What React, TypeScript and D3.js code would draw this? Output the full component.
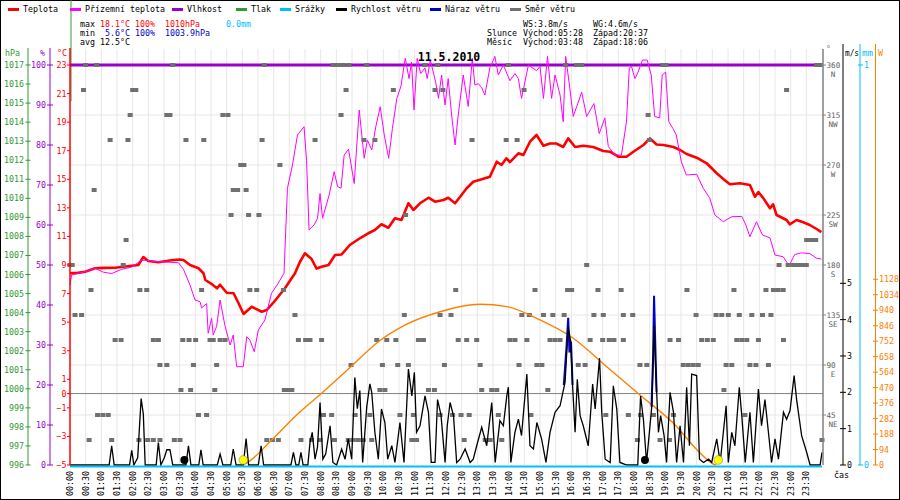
import React from "react";
import * as d3 from "d3";

type Pt = [number, number];

// hour of day, °C
const temperature: Pt[] = [
  [0, 8.42], [0.25, 8.45], [0.48, 8.53], [0.8, 8.77], [1.1, 8.8], [1.44, 8.81], [1.97, 8.95], [2.18, 9.0],
  [2.34, 9.56], [2.5, 9.28], [2.82, 9.19], [3.24, 9.33], [3.5, 9.38], [3.62, 9.35], [3.83, 9.0], [4.1, 8.77],
  [4.26, 8.42], [4.32, 7.95], [4.5, 7.7], [4.69, 7.37], [4.79, 7.62], [5.0, 7.06], [5.22, 7.02], [5.38, 6.32],
  [5.54, 5.57], [5.8, 6.08], [6.12, 5.73], [6.28, 5.85], [6.49, 6.36], [6.86, 7.37], [7.18, 8.42], [7.34, 9.23],
  [7.5, 9.82], [7.71, 9.42], [7.87, 8.75], [8.03, 8.88], [8.25, 9.0], [8.46, 9.7], [8.67, 9.74], [8.93, 10.4],
  [9.25, 10.87], [9.52, 11.22], [9.73, 11.45], [9.94, 11.85], [10.16, 11.61], [10.37, 12.27], [10.58, 12.15],
  [10.8, 13.32], [10.96, 12.85], [11.17, 13.32], [11.44, 13.71], [11.65, 13.43], [11.92, 13.55], [12.07, 13.71],
  [12.29, 13.32], [12.66, 14.37], [12.87, 14.83], [13.14, 15.0], [13.4, 15.18], [13.62, 16.23], [13.77, 16.0],
  [13.93, 16.47], [14.04, 16.2], [14.31, 16.82], [14.47, 16.7], [14.68, 17.63], [14.89, 18.1], [15.11, 17.35],
  [15.32, 17.5], [15.53, 17.5], [15.74, 17.26], [15.9, 17.86], [16.12, 17.26], [16.38, 17.35], [16.7, 17.26],
  [17.02, 16.98], [17.23, 16.93], [17.5, 16.58], [17.76, 16.58], [17.98, 16.93], [18.3, 17.4], [18.51, 17.86],
  [18.72, 17.44], [18.94, 17.4], [19.26, 17.26], [19.47, 17.05], [19.68, 16.77], [20.0, 16.51], [20.32, 16.12],
  [20.64, 15.42], [20.85, 15.02], [21.06, 14.65], [21.38, 14.72], [21.7, 14.6], [21.86, 13.78], [21.97, 14.1],
  [22.12, 13.7], [22.34, 12.97], [22.44, 13.25], [22.55, 12.5], [22.87, 12.15], [22.97, 11.85], [23.19, 12.15],
  [23.4, 11.99], [23.61, 11.8], [23.83, 11.52], [23.98, 11.3],
];

// hour of day, °C (ground)
const groundTemperature: Pt[] = [
  [0, 7.6], [0.05, 8.3], [0.48, 8.53], [0.8, 8.77], [1.06, 8.5], [1.33, 8.4], [1.65, 8.7], [1.97, 8.86],
  [2.29, 9.35], [2.82, 9.23], [3.46, 9.16], [3.62, 8.7], [3.83, 7.6], [3.99, 6.55], [4.15, 6.43], [4.2, 6.0],
  [4.36, 6.3], [4.41, 4.22], [4.52, 5.27], [4.57, 4.1], [4.68, 4.7], [4.79, 6.55], [4.95, 4.7], [5.11, 3.4],
  [5.21, 4.1], [5.32, 1.88], [5.53, 1.88], [5.64, 3.98], [5.74, 3.75], [5.88, 2.93], [6.01, 4.45], [6.22, 5.15],
  [6.43, 7.02], [6.64, 7.7], [6.83, 8.42], [6.94, 14.37], [7.1, 16.0], [7.26, 18.1], [7.47, 18.68], [7.55, 16.3],
  [7.63, 11.45], [7.79, 11.8], [7.9, 12.27], [7.98, 14.0], [8.06, 12.27], [8.27, 13.9], [8.43, 15.53],
  [8.54, 14.5], [8.65, 14.37], [8.75, 16.7], [8.89, 17.1], [9.07, 14.7], [9.23, 19.85], [9.39, 16.47],
  [9.49, 17.75], [9.63, 17.05], [9.76, 18.68], [9.9, 20.08], [10.03, 18.1], [10.17, 16.47], [10.29, 18.56],
  [10.43, 20.66], [10.56, 21.5], [10.7, 23.47], [10.82, 22.05], [10.9, 23.2], [10.98, 19.85], [11.08, 23.47],
  [11.19, 22.4], [11.33, 22.8], [11.4, 22.05], [11.5, 23.35], [11.67, 21.8], [11.76, 20.66], [11.86, 22.3],
  [11.97, 20.2], [12.07, 22.05], [12.18, 19.5], [12.29, 17.4], [12.39, 19.5], [12.55, 22.3], [12.71, 20.1],
  [12.84, 23.47], [12.92, 21.6], [13.03, 21.7], [13.14, 21.4], [13.24, 20.9], [13.4, 22.8], [13.56, 23.6],
  [13.67, 22.3], [13.83, 23.0], [14.04, 21.9], [14.2, 22.4], [14.31, 22.05], [14.41, 20.66], [14.63, 23.0],
  [14.89, 22.6], [15.0, 22.9], [15.11, 20.66], [15.24, 23.6], [15.37, 20.66], [15.48, 22.3], [15.64, 20.9],
  [15.74, 19.03], [15.82, 23.6], [15.95, 21.4], [16.06, 19.4], [16.19, 20.2], [16.33, 21.1], [16.49, 19.4],
  [16.72, 20.3], [16.89, 18.2], [17.07, 19.3], [17.18, 17.3], [17.39, 16.7], [17.6, 16.7], [17.76, 19.03],
  [17.85, 22.8], [17.92, 22.9], [18.03, 22.05], [18.13, 22.5], [18.27, 23.35], [18.42, 23.35], [18.55, 22.3],
  [18.66, 19.4], [18.82, 19.3], [18.9, 22.3], [19.01, 22.5], [19.11, 19.03], [19.24, 18.56], [19.35, 18.1],
  [19.51, 16.23], [19.67, 15.3], [20.0, 15.35], [20.21, 14.37], [20.42, 13.67], [20.58, 12.5], [20.85, 12.03],
  [21.12, 12.38], [21.44, 12.4], [21.57, 11.8], [21.7, 10.98], [21.91, 12.03], [22.1, 11.1], [22.34, 10.9],
  [22.5, 9.7], [22.76, 9.58], [22.95, 8.95], [23.13, 9.74], [23.35, 9.85], [23.61, 9.8], [23.83, 9.47],
  [23.98, 9.42],
];

// hour of day, m/s
const windSpeed: Pt[] = [
  [0, 0], [1.25, 0], [1.33, 0.53], [1.41, 0], [1.9, 0], [1.97, 0.4], [2.04, 0], [2.16, 0.2], [2.27, 1.83],
  [2.34, 1.4], [2.4, 0], [2.75, 0], [2.82, 0.62], [2.9, 0], [3.01, 0.2], [3.09, 0.42], [3.19, 0.42], [3.28, 0],
  [3.7, 0], [3.78, 0.53], [3.86, 0], [4.11, 0], [4.18, 0.42], [4.25, 0], [4.7, 0], [4.79, 0.3], [4.88, 0],
  [5.13, 0], [5.21, 0.44], [5.3, 0], [5.53, 0], [5.62, 0.73], [5.7, 0], [6.01, 0], [6.1, 0.53], [6.18, 0],
  [7.05, 0], [7.13, 0.35], [7.21, 0], [7.3, 0], [7.37, 0.35], [7.44, 0], [7.59, 0], [7.66, 0.62], [7.73, 0.9],
  [7.82, 0.16], [7.9, 0.5], [7.98, 1.72], [8.07, 0.16], [8.16, 0.3], [8.3, 1.08], [8.39, 0.07], [8.51, 0],
  [8.67, 0.44], [8.78, 0.16], [8.88, 0.72], [8.99, 0.16], [9.09, 2.41], [9.17, 1.55], [9.25, 2.05], [9.34, 0.07],
  [9.47, 1.6], [9.57, 2.23], [9.63, 2.0], [9.73, 0.9], [9.84, 0.16], [9.94, 1.54], [10.05, 1.17], [10.14, 0.16],
  [10.27, 0.53], [10.37, 0.07], [10.53, 1.17], [10.66, 0.07], [10.8, 2.64], [10.91, 1.9], [10.99, 2.55],
  [11.06, 0.9], [11.17, 1.08], [11.33, 1.9], [11.44, 1.45], [11.53, 0.07], [11.65, 0.07], [11.73, 1.8],
  [11.84, 1.38], [11.97, 0.07], [12.04, 1.08], [12.13, 1.72], [12.24, 1.35], [12.34, 0.07], [12.45, 0.16],
  [12.61, 0.44], [12.77, 0.07], [12.87, 0.16], [12.98, 0.53], [13.14, 1.04], [13.3, 0.53], [13.46, 1.72],
  [13.57, 0.07], [13.72, 1.22], [13.83, 1.08], [13.94, 1.9], [13.99, 2.14], [14.07, 0.07], [14.2, 0.9],
  [14.31, 1.26], [14.41, 0.81], [14.58, 2.5], [14.68, 0.53], [14.79, 0.44], [14.9, 1.17], [15.05, 0.72],
  [15.19, 0.07], [15.32, 0.9], [15.48, 1.45], [15.64, 1.63], [15.8, 2.28], [15.9, 3.8], [15.98, 3.39],
  [16.04, 2.18], [16.12, 0.9], [16.19, 2.36], [16.28, 1.36], [16.38, 1.08], [16.54, 0.53], [16.68, 2.23],
  [16.76, 1.54], [16.9, 2.94], [16.97, 1.45], [17.08, 0.16], [17.24, 0.07], [17.34, 2.18], [17.45, 1.54],
  [17.55, 0.07], [17.77, 0], [18.12, 0], [18.21, 1.9], [18.3, 1.26], [18.4, 0.07], [18.57, 1.63], [18.64, 3.84],
  [18.7, 2.46], [18.78, 0.9], [18.85, 1.36], [18.96, 0.81], [19.04, 0.07], [19.15, 2.0], [19.26, 1.45],
  [19.36, 0.07], [19.47, 1.08], [19.58, 0.07], [19.68, 2.14], [19.77, 0.53], [19.84, 2.5], [20.0, 2.46],
  [20.09, 0.16], [20.22, 0.07], [20.38, 0.16], [20.48, 0.07], [20.64, 0.72], [20.75, 0.07], [20.94, 1.63],
  [21.01, 0.07], [21.12, 0.9], [21.22, 0.53], [21.36, 2.14], [21.44, 1.36], [21.55, 0.07], [21.7, 1.45],
  [21.81, 0.07], [21.97, 2.09], [22.07, 1.08], [22.18, 1.8], [22.29, 0.9], [22.39, 0.07], [22.5, 0.72],
  [22.61, 0.16], [22.77, 1.45], [22.87, 1.26], [22.98, 1.5], [23.11, 2.46], [23.19, 1.8], [23.35, 0.81],
  [23.51, 0.35], [23.62, 0], [23.94, 0], [24, 0.35],
];

// gust peaks that stick out above the wind speed line
const windGustPeaks: Pt[][] = [
  [[15.76, 2.2], [15.85, 3.3], [15.9, 4.05], [15.94, 3.1], [15.99, 3.4], [16.04, 2.2]],
  [[18.56, 1.6], [18.61, 3.0], [18.64, 4.66], [18.68, 3.3], [18.72, 2.0]],
];

// hour of day, W/m2
const solarRadiation: Pt[] = [
  [5.5, 0], [5.62, 10], [6.44, 152], [7.29, 314], [8.03, 436], [8.99, 601], [9.84, 749], [10.69, 850],
  [11.81, 931], [13.09, 976], [13.94, 962], [15.0, 881], [16.06, 770], [17.13, 597], [18.19, 425],
  [19.26, 253], [20.11, 73], [20.53, 6], [20.62, 0],
];

const humidity: Pt[] = [[0, 100], [24, 100]];
const rain: Pt[] = [[0, 0], [24, 0]];
const pressure: Pt[] = [[0, 1015.1], [0, 1045]];

// wind direction samples: level (deg) and hours at which a mark sits on it
const dirLevels = [360, 337.5, 315, 292.5, 270, 247.5, 225, 202.5, 180, 157.5, 135, 112.5, 90, 67.5, 45, 22.5];
const dirHours: number[][] = [
  [0.5, 0.85, 3.28, 6.2, 8.4, 8.56, 8.72, 8.9, 9.47, 11.33, 11.74, 13.99, 15.82, 16.17, 16.33, 18.92, 19.02, 23.83, 23.94],
  [0.43, 2.0, 2.1, 8.81, 10.32, 11.65, 11.9, 14.49, 22.87],
  [1.92, 3.09, 3.19, 4.88, 5.04, 8.65, 18.45],
  [1.28, 1.85, 3.7, 4.27, 6.13, 7.82, 9.38, 9.73, 12.83, 13.92, 14.27, 18.49],
  [5.45, 5.55, 6.7],
  [0.77, 5.21, 5.35, 5.62],
  [5.14, 5.7, 6.03, 10.71],
  [1.79, 23.51, 23.66, 23.8],
  [0.0, 0.07, 1.7, 16.49, 22.63, 22.92, 23.07, 23.22, 23.36, 23.5],
  [0.67, 2.23, 2.45, 4.2, 5.74, 5.96, 6.81, 12.31, 14.84, 15.88, 16.01, 16.85, 17.59, 19.69, 21.19, 22.21, 22.45, 22.6, 22.76],
  [0.16, 0.37, 7.18, 10.67, 11.81, 12.16, 14.42, 14.66, 15.11, 15.41, 15.77, 16.72, 17.02, 17.66, 17.96, 19.98, 20.62, 20.8, 21.01, 21.36, 21.76, 22.1, 22.37],
  [1.44, 1.63, 2.66, 2.82, 3.6, 3.8, 4.01, 4.47, 4.57, 4.79, 4.95, 7.29, 7.52, 7.66, 8.03, 9.79, 10.11, 10.4, 11.12, 11.28, 12.39, 12.66, 12.98, 14.04, 14.2, 14.58, 15.32, 15.48, 15.64, 16.6, 17.0, 17.21, 17.36, 17.66, 19.15, 19.42, 20.16, 20.34, 20.53, 21.28, 21.44, 21.6, 21.97, 22.77],
  [2.87, 3.09, 3.94, 4.68, 8.97, 9.97, 10.46, 10.8, 11.95, 13.09, 14.33, 14.9, 15.06, 16.22, 16.44, 18.19, 18.41, 19.57, 19.73, 19.89, 20.05, 20.94, 21.12, 21.7, 21.89, 22.29],
  [3.54, 3.85, 4.62, 6.84, 6.95, 7.08, 9.89, 10.05, 11.44, 11.63, 13.14, 13.46, 13.62, 15.25, 20.87],
  [0.88, 1.05, 1.22, 4.1, 4.36, 8.09, 8.35, 9.1, 9.57, 10.53, 10.96, 11.81, 12.21, 12.48, 12.74, 13.67, 14.71, 17.1, 17.82, 18.21, 18.62, 19.26, 21.54],
  [0.61, 1.33, 2.2, 2.48, 2.66, 2.87, 3.33, 3.51, 6.28, 6.46, 6.65, 7.37, 7.71, 7.98, 8.44, 8.88, 9.04, 9.2, 9.36, 9.63, 10.91, 11.06, 12.58, 13.25, 13.41, 13.78, 18.11, 18.83, 19.13, 24.0],
];

const sunMarks = [5.53, 20.69];
const moonMarks = [3.65, 18.35];

const tempTicks = [23, 21, 19, 17, 15, 13, 11, 9, 7, 5, 3, 1, 0, -1, -3, -5];
const humTicks = d3.range(0, 101, 10);
const presTicks = d3.range(996, 1018);
const dirTicks: [number, string][] = [[360, "N"], [315, "NW"], [270, "W"], [225, "SW"], [180, "S"], [135, "SE"], [90, "E"], [45, "NE"]];
const windTicks = [0, 1, 2, 3, 4, 5];
const rainTicks = [0, 1];
const radTicks = d3.range(0, 1129, 94);
const timeTicks = d3.range(0, 48);

const legend = [
  { label: "Teplota", color: "#ff0000" },
  { label: "Přízemní teplota", color: "#ff00ff" },
  { label: "Vlhkost", color: "#9900cc" },
  { label: "Tlak", color: "#339933" },
  { label: "Srážky", color: "#00bfff" },
  { label: "Rychlost větru", color: "#000000" },
  { label: "Náraz větru", color: "#0000cc" },
  { label: "Směr větru", color: "#707070" },
];
const legendX = [8, 70, 172, 236, 280, 336, 430, 510];

const FONT = "'DejaVu Sans Mono', monospace";
const X0 = 70;
const X1 = 822;
const YTOP = 65;
const YBOT = 465;

const C = {
  temp: "#ff0000",
  ground: "#ff00ff",
  hum: "#9900cc",
  pres: "#339933",
  rain: "#00bfff",
  wind: "#000000",
  gust: "#0000cc",
  dir: "#707070",
  sun: "#ff8000",
  grid: "#e6e6e6",
};

const hhmm = (i: number) => `${String(Math.floor(i / 2)).padStart(2, "0")}:${i % 2 ? "30" : "00"}`;

export default function App() {
  const x = d3.scaleLinear().domain([0, 24]).range([X0, X1]);
  const yT = d3.scaleLinear().domain([-5, 23]).range([YBOT, YTOP]);
  const yH = d3.scaleLinear().domain([0, 100]).range([YBOT, YTOP]);
  const yP = d3.scaleLinear().domain([996, 1017]).range([YBOT, YTOP]);
  const yD = d3.scaleLinear().domain([0, 360]).range([YBOT, YTOP]);
  const yV = d3.scaleLinear().domain([0, 5]).range([YBOT, 283.3]);
  const yR = d3.scaleLinear().domain([0, 1]).range([YBOT, YTOP]);
  const yW = d3.scaleLinear().domain([0, 1128]).range([YBOT, 279.3]);

  const line = (ys: d3.ScaleLinear<number, number>, curve: d3.CurveFactory = d3.curveLinear) =>
    d3.line<Pt>().x((d) => x(d[0])).y((d) => ys(d[1])).curve(curve);

  const axisL = 28, axisH = 50, axisT = 70;
  const axisD = 823, axisV = 843, axisR = 860, axisW = 875.5;

  return (
    <svg
      width={900}
      height={500}
      style={{ position: "absolute", left: 0, top: 0, background: "#fff" }}
      fontFamily={FONT}
      fontSize={8.3}
    >
      <rect x={0.5} y={0.5} width={899} height={499} fill="#fff" stroke="#000" />

      {/* grid */}
      {timeTicks.slice(1).map((i) => (
        <line key={"gv" + i} x1={x(i / 2)} x2={x(i / 2)} y1={49} y2={YBOT} stroke={C.grid} />
      ))}
      {dirTicks.map(([d]) => (
        <line key={"gh" + d} x1={X0} x2={axisD} y1={yD(d)} y2={yD(d)} stroke={C.grid} />
      ))}
      <line x1={X0} x2={axisD} y1={yT(0)} y2={yT(0)} stroke="#808080" />

      {/* pressure */}
      <path d={line(yP)(pressure) ?? ""} transform="translate(1,0)" fill="none" stroke={C.pres} strokeWidth={1} />

      {/* humidity */}
      <path d={line(yH)(humidity) ?? ""} fill="none" stroke={C.hum} strokeWidth={3} />

      {/* temperatures */}
      <path d={line(yT)(temperature) ?? ""} fill="none" stroke={C.temp} strokeWidth={2.6} strokeLinejoin="round" />
      <path d={line(yT)(groundTemperature) ?? ""} fill="none" stroke={C.ground} strokeWidth={1} />

      {/* wind direction */}
      {dirLevels.map((lvl, li) =>
        dirHours[li].map((h, k) => (
          <rect key={`d${li}-${k}`} x={x(h) - 2.5} y={yD(lvl) - 2} width={5} height={4} fill={C.dir} />
        ))
      )}

      {/* solar radiation */}
      <path d={line(yW, d3.curveMonotoneX)(solarRadiation) ?? ""} fill="none" stroke={C.sun} strokeWidth={1.4} />

      {/* wind */}
      {windGustPeaks.map((seg, i) => (
        <path key={"g" + i} d={line(yV)(seg) ?? ""} fill="none" stroke={C.gust} strokeWidth={2} />
      ))}
      <path d={line(yV)(windSpeed) ?? ""} fill="none" stroke={C.wind} strokeWidth={1.3} />

      {/* rain */}
      <path d={line(yR)(rain) ?? ""} transform="translate(0,1.5)" fill="none" stroke={C.rain} strokeWidth={2} />

      {/* sun & moon */}
      {moonMarks.map((h) => (
        <circle key={"m" + h} cx={x(h)} cy={YBOT - 5} r={4} fill="#000" />
      ))}
      {sunMarks.map((h) => (
        <circle key={"s" + h} cx={x(h)} cy={YBOT - 5} r={4.3} fill="#ffff00" stroke="#8a8a30" strokeWidth={0.6} />
      ))}

      {/* left axes */}
      <line x1={axisL} x2={axisL} y1={48} y2={YBOT} stroke={C.pres} />
      <line x1={axisH} x2={axisH} y1={48} y2={YBOT} stroke={C.hum} />
      <line x1={axisT} x2={axisT} y1={48} y2={YBOT} stroke={C.temp} strokeWidth={1.5} />
      <text x={5} y={56} fill={C.pres}>hPa</text>
      <text x={40} y={56} fill={C.hum}>%</text>
      <text x={57} y={56} fill={C.temp}>°C</text>
      {presTicks.map((p) => (
        <g key={"p" + p}>
          <line x1={axisL - 2.5} x2={axisL + 2.5} y1={yP(p)} y2={yP(p)} stroke={C.pres} />
          <text x={axisL - 4} y={yP(p) + 3} textAnchor="end" fill={C.pres}>{p}</text>
        </g>
      ))}
      {humTicks.map((v) => (
        <g key={"h" + v}>
          <line x1={axisH - 3} x2={axisH + 3} y1={yH(v)} y2={yH(v)} stroke={C.hum} />
          <text x={axisH - 4} y={yH(v) + 3} textAnchor="end" fill={C.hum}>{v}</text>
        </g>
      ))}
      {tempTicks.map((t) => (
        <g key={"t" + t}>
          <line x1={axisT - 3} x2={axisT} y1={yT(t)} y2={yT(t)} stroke={C.temp} />
          <text x={axisT - 3.5} y={yT(t) + 3} textAnchor="end" fill={C.temp}>{t === 0 ? "0" : t < 0 ? `\u2212${-t}` : t}</text>
        </g>
      ))}

      {/* right axes */}
      <line x1={axisD} x2={axisD} y1={49} y2={YBOT} stroke="#808080" strokeWidth={1.5} />
      <line x1={axisV} x2={axisV} y1={44} y2={YBOT} stroke={C.wind} />
      <line x1={axisR} x2={axisR} y1={44} y2={YBOT} stroke={C.rain} />
      <line x1={axisW} x2={axisW} y1={44} y2={YBOT} stroke={C.sun} />
      <text x={826} y={52} fill="#808080">°</text>
      <text x={845} y={56} fill="#000" textLength={14} lengthAdjust="spacingAndGlyphs">m/s</text>
      <text x={862} y={56} fill={C.rain} textLength={11} lengthAdjust="spacingAndGlyphs">mm</text>
      <text x={878} y={56} fill={C.sun}>W</text>
      {dirTicks.map(([d, lab]) => (
        <g key={"dt" + d} fill="#606060" fontSize={7.6}>
          <line x1={axisD} x2={axisD + 3} y1={yD(d)} y2={yD(d)} stroke="#808080" />
          <text x={826.5} y={yD(d) + 2.5}>{d}</text>
          <text x={833} y={yD(d) + 12} textAnchor="middle">{lab}</text>
        </g>
      ))}
      {windTicks.map((v) => (
        <g key={"v" + v}>
          <line x1={axisV - 3} x2={axisV + 3} y1={yV(v)} y2={yV(v)} stroke={C.wind} />
          <text x={axisV + 4} y={yV(v) + 3} fill="#000">{v}</text>
        </g>
      ))}
      {rainTicks.map((v) => (
        <g key={"r" + v}>
          <line x1={axisR - 2} x2={axisR + 3} y1={yR(v)} y2={yR(v)} stroke={C.rain} />
          <text x={axisR + 4} y={yR(v) + 3} fill={C.rain}>{v}</text>
        </g>
      ))}
      {radTicks.map((v) => (
        <g key={"w" + v}>
          <line x1={axisW - 2.5} x2={axisW + 2.5} y1={yW(v)} y2={yW(v)} stroke={C.sun} />
          <text x={axisW + 3.5} y={yW(v) + 3} fill={C.sun}>{v}</text>
        </g>
      ))}

      {/* time axis */}
      {timeTicks.map((i) => (
        <text key={"x" + i} transform={`translate(${x(i / 2) + 3},471) rotate(-90)`} textAnchor="end" fill="#000">
          {hhmm(i)}
        </text>
      ))}
      <text x={834} y={478} fill="#000">čas</text>

      {/* title */}
      <text x={449} y={61} textAnchor="middle" fontWeight="bold" fontSize={11.5} fill="#000">11.5.2010</text>

      {/* legend */}
      {legend.map((it, i) => (
        <g key={"l" + i}>
          <line x1={legendX[i]} x2={legendX[i] + 11} y1={9.5} y2={9.5} stroke={it.color} strokeWidth={3} />
          <text x={legendX[i] + 15} y={12} fill="#000">{it.label}</text>
        </g>
      ))}

      {/* stats */}
      <g fill="#000">
        <text y={27}>
          <tspan x={80}>max</tspan>
          <tspan x={100} fill="#ff0000">18.1°C</tspan>
          <tspan x={135} fill="#ff0000">100%</tspan>
          <tspan x={165} fill="#ff0000">1010hPa</tspan>
          <tspan x={226} fill="#00bfff">0.0mm</tspan>
        </text>
        <text y={36}>
          <tspan x={80}>min</tspan>
          <tspan x={105} fill="#0000cc">5.6°C</tspan>
          <tspan x={135} fill="#0000cc">100%</tspan>
          <tspan x={165} fill="#0000cc">1003.9hPa</tspan>
        </text>
        <text y={45}>
          <tspan x={80}>avg</tspan>
          <tspan x={100}>12.5°C</tspan>
        </text>
        <text y={27}>
          <tspan x={523}>WS:3.8m/s</tspan>
          <tspan x={593}>WG:4.6m/s</tspan>
        </text>
        <text y={36}>
          <tspan x={487}>Slunce</tspan>
          <tspan x={523}>Východ:05:28</tspan>
          <tspan x={593}>Západ:20:37</tspan>
        </text>
        <text y={45}>
          <tspan x={487}>Měsíc</tspan>
          <tspan x={523}>Východ:03:48</tspan>
          <tspan x={593}>Západ:18:06</tspan>
        </text>
      </g>
    </svg>
  );
}
